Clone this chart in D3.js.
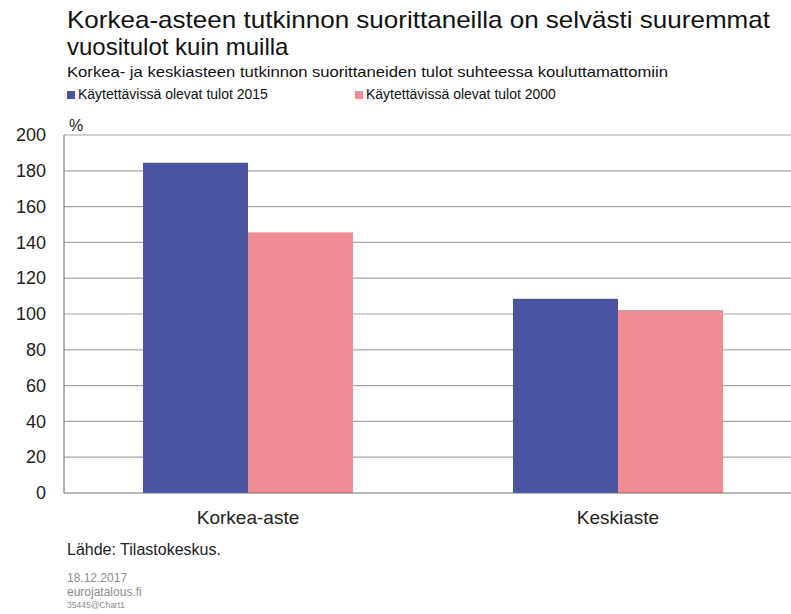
<!DOCTYPE html>
<html><head><meta charset="utf-8">
<script src="https://cdn.jsdelivr.net/npm/d3@7"></script>
<style>body{margin:0;background:#fff}svg{display:block;font-family:"Liberation Sans",Arial,sans-serif}</style>
</head><body><svg id="c" width="791" height="614"></svg>
<script>
const categories = ["Korkea-aste", "Keskiaste"];
const seriesNames = ["Käytettävissä olevat tulot 2015", "Käytettävissä olevat tulot 2000"];
const values2015 = [184.5, 108.5];
const values2000 = [145.6, 102.2];
const yTicks = [0, 20, 40, 60, 80, 100, 120, 140, 160, 180, 200];
const colors = ["#4B54A2", "#F08C93"];

const svg = d3.select("#c");
const x = d3.scaleBand().domain(categories).range([63, 803]).paddingInner(0).paddingOuter(0);
const xs = d3.scaleBand().domain([0, 1]).range([0, x.bandwidth()]).paddingInner(0).paddingOuter(0.762);
const y = d3.scaleLinear().domain([0, 200]).range([493, 135]);

// grid
svg.append("g").selectAll("line").data(yTicks.filter(d => d > 0)).join("line")
  .attr("x1", 64).attr("x2", 803).attr("y1", d => y(d)).attr("y2", d => y(d))
  .attr("stroke", "#a6a6a6").attr("stroke-width", 1.2);

// bars
const data = categories.map((c, i) => ({c, v: [values2015[i], values2000[i]]}));
const g = svg.append("g");
data.forEach(d => {
  d.v.forEach((v, j) => {
    g.append("rect").attr("x", x(d.c) + xs(j)).attr("width", xs.bandwidth())
      .attr("y", y(v)).attr("height", y(0) - y(v)).attr("fill", colors[j]);
  });
});

// axes
svg.append("line").attr("x1", 64).attr("x2", 64).attr("y1", y(200)).attr("y2", y(0)).attr("stroke", "#808080").attr("stroke-width", 1.2);
svg.append("line").attr("x1", 64).attr("x2", 803).attr("y1", y(0)).attr("y2", y(0)).attr("stroke", "#707070").attr("stroke-width", 1.2);

const yAxis = d3.axisLeft(y).tickValues(yTicks).tickSize(0).tickPadding(0);
const ya = svg.append("g").attr("transform", "translate(46,0)").call(yAxis);
ya.select(".domain").remove();
ya.selectAll("text").attr("font-size", 18).attr("fill", "#222").attr("font-family", "Liberation Sans, Arial, sans-serif");

const xAxis = d3.axisBottom(x).tickSize(0).tickPadding(0);
const xa = svg.append("g").attr("transform", "translate(0,510)").call(xAxis);
xa.select(".domain").remove();
xa.selectAll("text").attr("font-size", 19).attr("fill", "#222").attr("font-family", "Liberation Sans, Arial, sans-serif");

// texts
const t = (txt, xx, yy, size, fill, extra) => {
  const e = svg.append("text").attr("x", xx).attr("y", yy).attr("font-size", size).attr("fill", fill).text(txt);
  if (extra) extra(e);
  return e;
};
t("Korkea-asteen tutkinnon suorittaneilla on selvästi suuremmat", 67, 28, 24, "#111", e => e.attr("textLength", 703).attr("lengthAdjust", "spacingAndGlyphs"));
t("vuositulot kuin muilla", 67, 55, 24, "#111");
t("Korkea- ja keskiasteen tutkinnon suorittaneiden tulot suhteessa kouluttamattomiin", 67, 77, 14.5, "#111", e => e.attr("textLength", 601).attr("lengthAdjust", "spacingAndGlyphs"));
// legend
const legX = [67, 355];
seriesNames.forEach((s, i) => {
  svg.append("rect").attr("x", legX[i]).attr("y", 91).attr("width", 8).attr("height", 8).attr("fill", colors[i]);
  t(s, legX[i] + 11, 99, 14, "#111");
});
t("%", 69, 131, 16, "#222");
t("Lähde: Tilastokeskus.", 67, 555, 16, "#222");
t("18.12.2017", 67, 582, 12, "#8c8c8c");
t("eurojatalous.fi", 67, 596, 12, "#8c8c8c");
t("35445@Chart1", 67, 608, 8.5, "#8c8c8c");
</script></body></html>
